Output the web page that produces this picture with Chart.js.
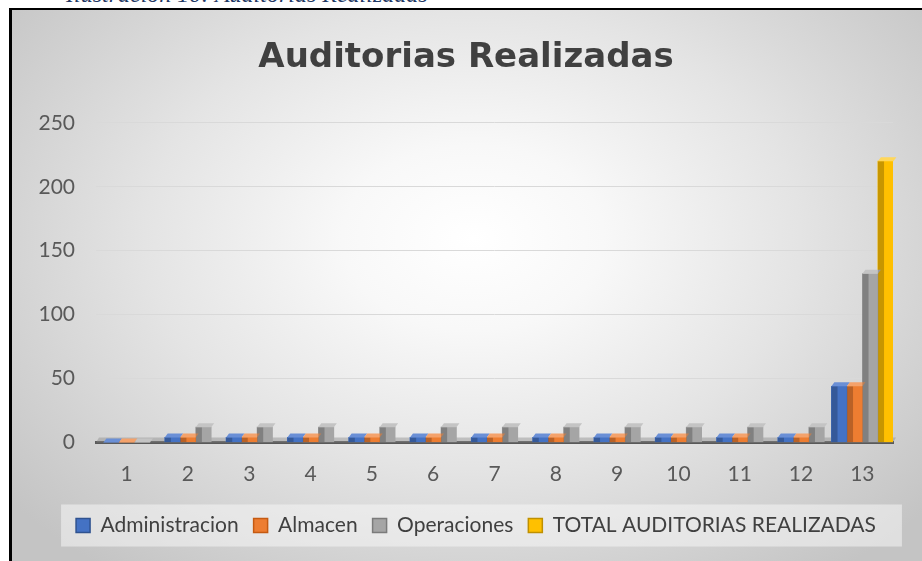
<!DOCTYPE html>
<html><head><meta charset="utf-8">
<script src="https://cdn.jsdelivr.net/npm/chart.js@4.4.1/dist/chart.umd.min.js"></script>
<style>
html,body{margin:0;padding:0;background:#fff;width:922px;height:561px;overflow:hidden;}
#cap{position:absolute;left:66px;top:-18px;font:italic 24px 'Liberation Serif',serif;color:#1F3864;line-height:24px;white-space:nowrap;}
#frame{position:absolute;left:9px;top:8px;width:960px;height:600px;border-left:3px solid #000;border-top:2.5px solid #000;
 background:radial-gradient(62% 70% at 48% 38%, #ffffff 0%, #f8f8f8 22%, #e4e4e4 55%, #d2d2d2 80%, #c4c4c4 100%);}
#c{position:absolute;left:0;top:0;}
</style></head><body>
<div id="cap">Ilustración 10: Auditorias Realizadas</div>
<div id="frame"></div>
<canvas id="c" width="922" height="561"></canvas>
<script>
// ---- data ----
const categories = ['1','2','3','4','5','6','7','8','9','10','11','12','13'];
const administracion = [0,4,4,4,4,4,4,4,4,4,4,4,44];
const almacen        = [0,4,4,4,4,4,4,4,4,4,4,4,44];
const operaciones    = [0,12,12,12,12,12,12,12,12,12,12,12,132];
const totalAuditorias = [null,null,null,null,null,null,null,null,null,null,null,null,220];
const seriesNames = ['Administracion','Almacen','Operaciones','TOTAL AUDITORIAS REALIZADAS'];
const yTicks = [0,50,100,150,200,250];

// ---- styles ----
const fillColors = ['#4472C4','#ED7D31','#A5A5A5','#FFC000'];
const edgeColors = ['#2F528F','#C55A11','#7B7B7B','#BF9000'];
const capColors  = ['#6A8FD6','#F4A26B','#C4C4C4','#FFD75A'];
const LEGEND_SHIFT = 10;

const bar3d = {
  id:'bar3d',
  beforeDatasetsDraw(chart){
    const {ctx, chartArea:a, scales:{y}} = chart;
    const b = y.getPixelForValue(0);
    ctx.save();
    ctx.fillStyle = 'rgba(140,140,140,0.45)';
    ctx.beginPath();
    ctx.moveTo(a.left, b); ctx.lineTo(a.right, b);
    ctx.lineTo(a.right+3, b-5); ctx.lineTo(a.left+3, b-5);
    ctx.closePath(); ctx.fill();
    ctx.restore();
  },
  afterDatasetsDraw(chart){
    const ctx = chart.ctx;
    chart.data.datasets.forEach((ds,i)=>{
      const meta = chart.getDatasetMeta(i);
      meta.data.forEach((el,j)=>{
        if (ds.data[j] == null) return;
        const p = el.getProps(['x','y','base','width'], true);
        if (!isFinite(p.x) || !isFinite(p.y)) return;
        const l = p.x - p.width/2, r = p.x + p.width/2;
        ctx.save();
        if (p.base - p.y > 0) {
          ctx.fillStyle = 'rgba(0,0,0,0.22)';
          ctx.fillRect(l, p.y, p.width*0.4, p.base - p.y);
        }
        ctx.fillStyle = capColors[i];
        ctx.beginPath();
        ctx.moveTo(l, p.y); ctx.lineTo(r, p.y);
        ctx.lineTo(r+3, p.y-4); ctx.lineTo(l+3, p.y-4);
        ctx.closePath(); ctx.fill();
        ctx.restore();
      });
    });
  }
};

const legendBg = {
  id:'legendBg',
  afterLayout(chart){
    const lg = chart.legend;
    if (lg) { lg.left += LEGEND_SHIFT; lg.right += LEGEND_SHIFT; }
  },
  beforeDraw(chart){
    const lg = chart.legend;
    if (!lg || !lg.legendHitBoxes || !lg.legendHitBoxes.length) return;
    const hb = lg.legendHitBoxes;
    const last = hb[hb.length-1];
    const l = hb[0].left - 25 + LEGEND_SHIFT, r = last.left + last.width + 16 + LEGEND_SHIFT;
    const t = hb[0].top - 10.5, h = hb[0].height + 21;
    const ctx = chart.ctx;
    ctx.save();
    ctx.fillStyle = 'rgba(245,245,245,0.55)';
    ctx.fillRect(l, t, r-l, h);
    ctx.restore();
  }
};

const datasetsData = [administracion, almacen, operaciones, totalAuditorias];

new Chart(document.getElementById('c'), {
  type:'bar',
  data:{
    labels: categories,
    datasets: datasetsData.map((d,i)=>({
      label: seriesNames[i],
      data: d,
      backgroundColor: fillColors[i],
      borderWidth: 0,
      barThickness: 15.5,
      skipNull: true
    }))
  },
  options:{
    responsive:false,
    animation:false,
    events:[],
    layout:{padding:{left:39,right:29,top:38,bottom:15}},
    plugins:{
      title:{display:true,text:'Auditorias Realizadas',color:'#404040',
        font:{family:'DejaVu Sans',size:34,weight:'bold'},padding:{top:0,bottom:44}},
      legend:{position:'bottom',
        labels:{color:'#404040',font:{family:'Lato',size:21},boxWidth:14,boxHeight:14,padding:15,
          generateLabels(chart){
            return chart.data.datasets.map((ds,i)=>({text:ds.label,fillStyle:fillColors[i],strokeStyle:edgeColors[i],
              lineWidth:1.5,hidden:false,datasetIndex:i,fontColor:'#404040'}));
          }}},
      tooltip:{enabled:false}
    },
    scales:{
      x:{
        grid:{display:false,drawTicks:false},
        border:{display:true,color:'#595959',width:3},
        ticks:{color:'#595959',font:{family:'Lato',size:21},padding:19},
        afterFit(s){ s.height = 57.5; }
      },
      y:{
        min:0,max:250,
        afterBuildTicks(s){ s.ticks = yTicks.map(v=>({value:v})); },
        afterFit(s){ s.width = 57; },
        grid:{color:'#d9d9d9',drawTicks:false},
        border:{display:false},
        ticks:{color:'#595959',font:{family:'Lato',size:21},padding:21}
      }
    }
  },
  plugins:[bar3d, legendBg]
});
</script>
</body></html>
